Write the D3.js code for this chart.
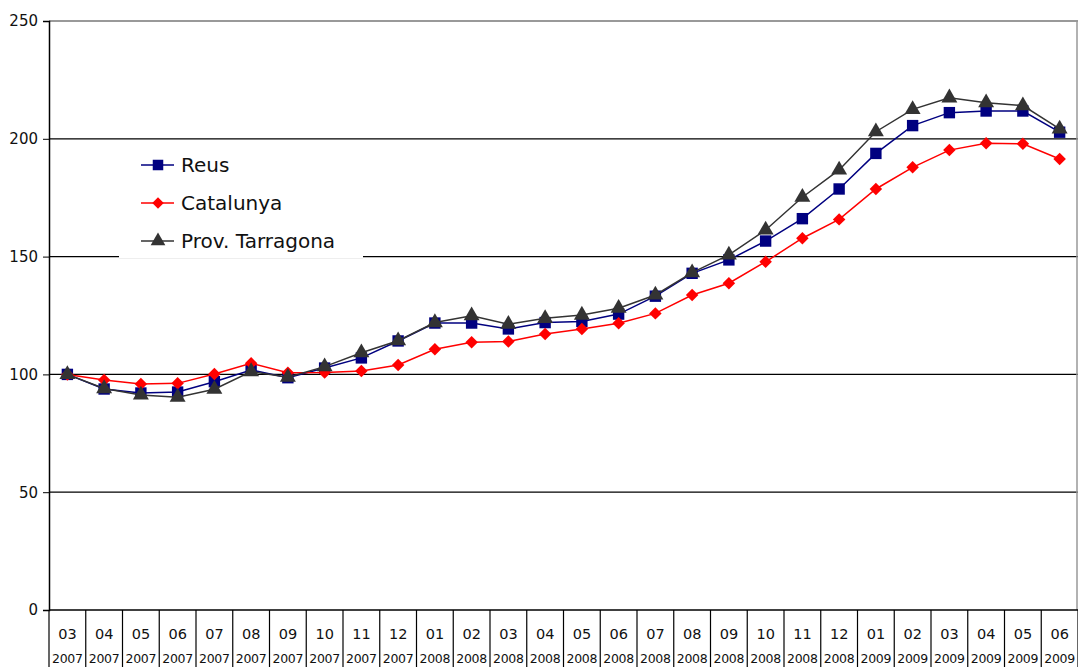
<!DOCTYPE html>
<html>
<head>
<meta charset="utf-8">
<script src="https://cdn.jsdelivr.net/npm/d3@7"></script>
<style>
  html, body { margin: 0; padding: 0; background: #fff; }
  svg { display: block; font-family: "DejaVu Sans", sans-serif; }
</style>
</head>
<body>
<svg id="chart" width="1078" height="667"></svg>
<script>
// Category labels: month over year
const months = ["03","04","05","06","07","08","09","10","11","12",
                "01","02","03","04","05","06","07","08","09","10","11","12",
                "01","02","03","04","05","06"];
const years = ["2007","2007","2007","2007","2007","2007","2007","2007","2007","2007",
               "2008","2008","2008","2008","2008","2008","2008","2008","2008","2008","2008","2008",
               "2009","2009","2009","2009","2009","2009"];

// Index values (base 03/2007 = 100)
const reus = [100, 93.8, 92.1, 92.5, 96.9, 101.9, 98.6, 102.7, 107.0, 114.2,
              121.8, 121.8, 119.3, 122.0, 122.5, 125.6, 133.2, 142.9, 148.6, 156.6, 166.1, 178.7,
              193.8, 205.6, 211.1, 211.8, 211.8, 202.8];
const catalunya = [100, 97.6, 95.9, 96.2, 100.2, 104.7, 100.7, 100.8, 101.4, 104.0,
                   110.7, 113.6, 114.0, 117.1, 119.3, 121.7, 125.9, 133.7, 138.7, 147.8, 157.8, 165.8,
                   178.7, 187.9, 195.2, 198.1, 197.9, 191.4];
const tarragona = [100, 94.0, 91.3, 90.3, 93.7, 101.2, 98.8, 103.3, 109.2, 114.3,
                   122.0, 124.9, 121.3, 123.8, 125.2, 128.1, 133.7, 143.2, 150.7, 161.3, 175.2, 186.8,
                   203.0, 212.5, 217.4, 215.3, 214.1, 204.2];

const yTicks = [0, 50, 100, 150, 200, 250];

(function drawChart() {
  // rotate: 45 turns the square symbol into an even-sided diamond
  const seriesDefs = [
    { name: "Reus", values: reus, color: "#000080", symbol: d3.symbolSquare, size: 130, rotate: 0 },
    { name: "Catalunya", values: catalunya, color: "#FF0000", symbol: d3.symbolSquare, size: 78, rotate: 45 },
    { name: "Prov. Tarragona", values: tarragona, color: "#333333", symbol: d3.symbolTriangle, size: 110, rotate: 0 }
  ];

  const svg = d3.select("#chart");
  const plotLeft = 49, plotRight = 1078, plotTop = 21, plotBottom = 610, fullH = 667;

  const x = d3.scaleBand().domain(d3.range(months.length)).range([plotLeft, plotRight]).padding(0);
  const y = d3.scaleLinear().domain([0, 250]).range([plotBottom, plotTop]);

  // Horizontal gridlines
  svg.append("g").selectAll("line")
    .data(yTicks.filter(v => v > 0 && v < 250))
    .join("line")
    .attr("x1", plotLeft).attr("x2", plotRight)
    .attr("y1", d => y(d)).attr("y2", d => y(d))
    .attr("stroke", "#000").attr("stroke-width", 1.2);

  // Plot frame (top and right edges)
  svg.append("line").attr("x1", plotLeft).attr("x2", plotRight).attr("y1", y(250)).attr("y2", y(250))
    .attr("stroke", "#777").attr("stroke-width", 1.5);
  svg.append("line").attr("x1", plotRight - 1).attr("x2", plotRight - 1).attr("y1", y(250)).attr("y2", plotBottom)
    .attr("stroke", "#999").attr("stroke-width", 1.5);

  // Y axis
  const yAxis = d3.axisLeft(y).tickValues(yTicks).tickSize(6).tickPadding(5);
  const gy = svg.append("g").attr("transform", `translate(${plotLeft},0)`).call(yAxis);
  gy.select(".domain").attr("stroke", "#000").attr("stroke-width", 1.5);
  gy.selectAll(".tick line").attr("stroke", "#000");
  gy.selectAll(".tick text").attr("font-size", 15).attr("fill", "#111")
    .attr("font-family", "DejaVu Sans, sans-serif");

  // X axis: boxed category cells
  svg.append("line").attr("x1", plotLeft).attr("x2", plotRight).attr("y1", plotBottom).attr("y2", plotBottom)
    .attr("stroke", "#000").attr("stroke-width", 1.5);
  const bounds = d3.range(months.length + 1).map(i => i < months.length ? x(i) : plotRight);
  svg.append("g").selectAll("line")
    .data(bounds)
    .join("line")
    .attr("x1", d => d).attr("x2", d => d)
    .attr("y1", plotBottom).attr("y2", fullH)
    .attr("stroke", "#000").attr("stroke-width", 1.2);

  const cells = svg.append("g").selectAll("g")
    .data(months.map((m, i) => ({ m, yr: years[i], i })))
    .join("g")
    .attr("transform", d => `translate(${x(d.i) + x.bandwidth() / 2},0)`);
  cells.append("text").attr("y", 639).attr("text-anchor", "middle")
    .attr("font-size", 14.5).attr("fill", "#111").text(d => d.m);
  cells.append("text").attr("y", 663).attr("text-anchor", "middle")
    .attr("font-size", 12.5).attr("letter-spacing", "-0.3").attr("fill", "#111").text(d => d.yr);

  // Series lines and markers
  const line = d3.line()
    .x((d, i) => x(i) + x.bandwidth() / 2)
    .y(d => y(d));

  seriesDefs.forEach(s => {
    const g = svg.append("g");
    g.append("path").datum(s.values)
      .attr("d", line)
      .attr("fill", "none")
      .attr("stroke", s.color)
      .attr("stroke-width", 1.5);
    g.selectAll("path.m").data(s.values).join("path")
      .attr("class", "m")
      .attr("transform", (d, i) => `translate(${x(i) + x.bandwidth() / 2},${y(d)}) rotate(${s.rotate})`)
      .attr("d", d3.symbol().type(s.symbol).size(s.size))
      .attr("fill", s.color);
  });

  // Legend
  const legend = svg.append("g");
  legend.append("rect").attr("x", 119).attr("y", 146).attr("width", 244).attr("height", 112)
    .attr("fill", "#fff");
  legend.append("line").attr("x1", 119).attr("x2", 363).attr("y1", 258.5).attr("y2", 258.5)
    .attr("stroke", "#eee").attr("stroke-width", 1);
  seriesDefs.forEach((s, k) => {
    const cy = 165 + k * 38;
    legend.append("line").attr("x1", 141).attr("x2", 174).attr("y1", cy).attr("y2", cy)
      .attr("stroke", s.color).attr("stroke-width", 1.5);
    legend.append("path").attr("transform", `translate(158,${cy}) rotate(${s.rotate})`)
      .attr("d", d3.symbol().type(s.symbol).size(s.size * 0.85))
      .attr("fill", s.color);
    legend.append("text").attr("x", 181).attr("y", cy + 7)
      .attr("font-size", 20).attr("fill", "#111").text(s.name);
  });
})();
</script>
</body>
</html>
